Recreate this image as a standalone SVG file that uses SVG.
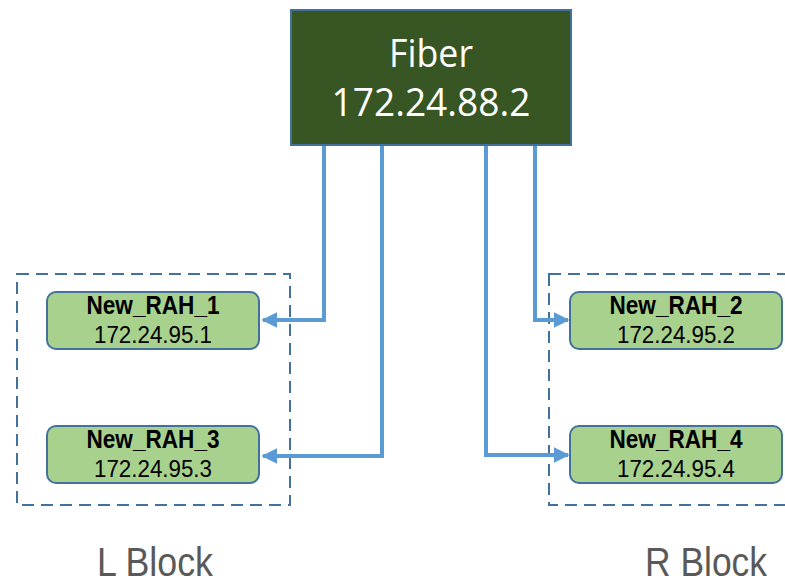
<svg xmlns="http://www.w3.org/2000/svg" width="785" height="587" viewBox="0 0 785 587">
<style>
.blk{fill:none;stroke:#41719c;stroke-width:2;stroke-dasharray:12,7}
.node rect{fill:#a9d18e;stroke:#41719c;stroke-width:2}
.t1{font-family:"Liberation Sans",Arial,sans-serif;font-weight:bold;font-size:25px;fill:#000;text-anchor:middle}
.t2{font-family:"Liberation Sans",Arial,sans-serif;font-size:24px;fill:#000;text-anchor:middle}
.big{font-family:"Open Sans","Liberation Sans",sans-serif;font-size:39px;fill:#fff;text-anchor:middle}
.lbl{font-family:"Liberation Sans",sans-serif;font-size:40px;fill:#595959}
.c{fill:none;stroke:#5b9bd5;stroke-width:4}
</style>
<defs>
<marker id="ar" viewBox="0 0 10 10" refX="9" refY="5" markerWidth="4" markerHeight="4" orient="auto" markerUnits="strokeWidth">
<path d="M0,0 L10,5 L0,10 z" fill="#5b9bd5"/>
</marker>
</defs>
<rect class="blk" x="17" y="274" width="273" height="231"/>
<rect class="blk" x="549" y="274" width="250" height="231"/>
<g id="fiber">
<rect x="291" y="10" width="280" height="135" fill="#375623" stroke="#41719c" stroke-width="2"/>
<text class="big" x="431" y="67" textLength="84" lengthAdjust="spacingAndGlyphs">Fiber</text>
<text class="big" x="431" y="116" textLength="199" lengthAdjust="spacingAndGlyphs">172.24.88.2</text>
</g>
<g id="connectors">
<path class="c" d="M324,146 V320 H263" marker-end="url(#ar)"/>
<path class="c" d="M382,146 V456 H263" marker-end="url(#ar)"/>
<path class="c" d="M535,146 V320 H568" marker-end="url(#ar)"/>
<path class="c" d="M486,146 V455 H568" marker-end="url(#ar)"/>
</g>
<g id="rah1" class="node">
<rect x="47" y="292" width="212" height="57" rx="9"/>
<text class="t1" x="153" y="314" textLength="133" lengthAdjust="spacingAndGlyphs">New_RAH_1</text>
<text class="t2" x="153" y="343" textLength="118" lengthAdjust="spacingAndGlyphs">172.24.95.1</text>
</g>
<g id="rah3" class="node">
<rect x="47" y="426" width="212" height="57" rx="9"/>
<text class="t1" x="153" y="448" textLength="133" lengthAdjust="spacingAndGlyphs">New_RAH_3</text>
<text class="t2" x="153" y="477" textLength="118" lengthAdjust="spacingAndGlyphs">172.24.95.3</text>
</g>
<g id="rah2" class="node">
<rect x="570" y="292" width="212" height="57" rx="9"/>
<text class="t1" x="676" y="314" textLength="133" lengthAdjust="spacingAndGlyphs">New_RAH_2</text>
<text class="t2" x="676" y="343" textLength="118" lengthAdjust="spacingAndGlyphs">172.24.95.2</text>
</g>
<g id="rah4" class="node">
<rect x="570" y="426" width="212" height="57" rx="9"/>
<text class="t1" x="676" y="448" textLength="133" lengthAdjust="spacingAndGlyphs">New_RAH_4</text>
<text class="t2" x="676" y="477" textLength="118" lengthAdjust="spacingAndGlyphs">172.24.95.4</text>
</g>
<text class="lbl" x="97" y="576" textLength="116" lengthAdjust="spacingAndGlyphs">L Block</text>
<text class="lbl" x="645" y="576" textLength="122" lengthAdjust="spacingAndGlyphs">R Block</text>
</svg>
